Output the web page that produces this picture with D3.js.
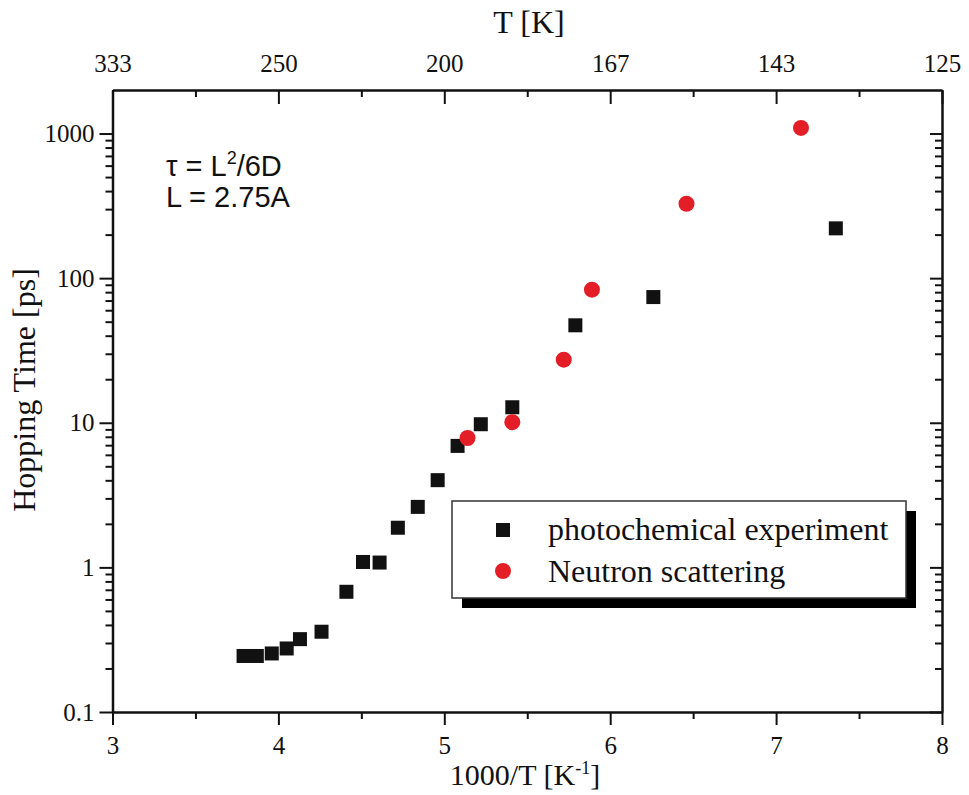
<!DOCTYPE html>
<html>
<head>
<meta charset="utf-8">
<script src="https://cdn.jsdelivr.net/npm/d3@7"></script>
<style>
  body { margin: 0; background: #fff; }
  svg { display: block; }
</style>
</head>
<body>
<div id="chart"></div>
<script>
const width = 969;
const height = 795;

// photochemical experiment (black squares)
const photoX = [3.79, 3.87, 3.96, 4.05, 4.13, 4.26, 4.41, 4.51, 4.61, 4.72, 4.84, 4.96, 5.08, 5.22, 5.41, 5.79, 6.26, 7.36];
const photoY = [0.244, 0.244, 0.254, 0.275, 0.319, 0.359, 0.678, 1.09, 1.08, 1.88, 2.62, 4.01, 6.92, 9.77, 12.8, 47.2, 74.0, 221];

// neutron scattering (red circles)
const neutronX = [5.14, 5.41, 5.72, 5.89, 6.46, 7.15];
const neutronY = [7.85, 10.1, 27.3, 83.2, 327, 1094];

const xTicks = [3, 4, 5, 6, 7, 8];
const xMinorTicks = [3.5, 4.5, 5.5, 6.5, 7.5];
const topTickLabels = ["333", "250", "200", "167", "143", "125"];
const yTicks = [0.1, 1, 10, 100, 1000];
const yTickLabels = ["0.1", "1", "10", "100", "1000"];
const legendLabels = ["photochemical experiment", "Neutron scattering"];

const serif = "'Liberation Serif', 'Times New Roman', serif";
const plotLeft = 112.5, plotRight = 942, plotTop = 90, plotBottom = 712;

const x = d3.scaleLinear().domain([3, 8]).range([plotLeft, plotRight]);
const y = d3.scaleLog().domain([0.1, 2000]).range([plotBottom, plotTop]);

// log minor ticks 2..9 in each decade below 1000
const yMinorTicks = [];
yTicks.forEach(function(d) {
  for (let k = 2; k <= 9; k++) {
    if (d * k < 1000) yMinorTicks.push(d * k);
  }
});

const svg = d3.select("#chart")
  .append("svg")
  .attr("width", width)
  .attr("height", height)
  .style("font-family", serif);

function styleAxis(g) {
  g.attr("font-family", serif);
  g.select(".domain").attr("stroke", "#111").attr("stroke-width", 2.5);
  g.selectAll(".tick line").attr("stroke", "#111").attr("stroke-width", 2);
  g.selectAll(".tick text").attr("fill", "#111")
    .style("font-family", serif)
    .style("font-size", "25px");
}

// bottom axis: outward ticks
svg.append("g")
  .attr("transform", "translate(0," + plotBottom + ")")
  .call(d3.axisBottom(x).tickValues(xTicks).tickSize(13).tickSizeOuter(0).tickPadding(11)
    .tickFormat(d3.format("d")))
  .call(styleAxis);
svg.append("g")
  .attr("transform", "translate(0," + plotBottom + ")")
  .call(d3.axisBottom(x).tickValues(xMinorTicks).tickSize(7).tickFormat(""))
  .call(styleAxis)
  .call(function(g) { g.select(".domain").remove(); });

// top axis: inward ticks, labels in K
svg.append("g")
  .attr("transform", "translate(0," + plotTop + ")")
  .call(d3.axisTop(x).tickValues(xTicks).tickSize(-14).tickSizeOuter(0).tickPadding(18)
    .tickFormat(function(d, i) { return topTickLabels[i]; }))
  .call(styleAxis);
svg.append("g")
  .attr("transform", "translate(0," + plotTop + ")")
  .call(d3.axisTop(x).tickValues(xMinorTicks).tickSize(-7).tickFormat(""))
  .call(styleAxis)
  .call(function(g) { g.select(".domain").remove(); });

// left axis: outward ticks
svg.append("g")
  .attr("transform", "translate(" + plotLeft + ",0)")
  .call(d3.axisLeft(y).tickValues(yTicks).tickSize(13).tickSizeOuter(0).tickPadding(5)
    .tickFormat(function(d, i) { return yTickLabels[i]; }))
  .call(styleAxis);
svg.append("g")
  .attr("transform", "translate(" + plotLeft + ",0)")
  .call(d3.axisLeft(y).tickValues(yMinorTicks).tickSize(7).tickFormat(""))
  .call(styleAxis)
  .call(function(g) { g.select(".domain").remove(); });

// right axis: inward ticks, no labels
svg.append("g")
  .attr("transform", "translate(" + plotRight + ",0)")
  .call(d3.axisRight(y).tickValues(yTicks).tickSize(-12).tickSizeOuter(0).tickFormat(""))
  .call(styleAxis);
svg.append("g")
  .attr("transform", "translate(" + plotRight + ",0)")
  .call(d3.axisRight(y).tickValues(yMinorTicks).tickSize(-7).tickFormat(""))
  .call(styleAxis)
  .call(function(g) { g.select(".domain").remove(); });

// axis titles
svg.append("text")
  .attr("x", 529)
  .attr("y", 33)
  .attr("text-anchor", "middle")
  .attr("fill", "#111")
  .style("font-size", "32px")
  .text("T [K]");

const xTitle = svg.append("text")
  .attr("x", 525)
  .attr("y", 785)
  .attr("text-anchor", "middle")
  .attr("fill", "#111")
  .style("font-size", "30px");
xTitle.append("tspan").text("1000/T [K");
xTitle.append("tspan").attr("dy", -11).style("font-size", "18px").text("-1");
xTitle.append("tspan").attr("dy", 11).text("]");

svg.append("text")
  .attr("transform", "translate(35,390) rotate(-90)")
  .attr("text-anchor", "middle")
  .attr("fill", "#111")
  .style("font-size", "32px")
  .text("Hopping Time [ps]");

// formula annotation
const note = svg.append("g")
  .style("font-family", "'Liberation Sans', Arial, sans-serif")
  .style("font-size", "29px")
  .attr("fill", "#111");
const line1 = note.append("text").attr("x", 166).attr("y", 176);
line1.append("tspan").text("\u03c4 = L");
line1.append("tspan").attr("dy", -12).style("font-size", "18px").text("2");
line1.append("tspan").attr("dy", 12).text("/6D");
note.append("text").attr("x", 166).attr("y", 207).text("L = 2.75A");

// data points
const sq = 14;
svg.append("g")
  .selectAll("rect")
  .data(photoX)
  .enter()
  .append("rect")
  .attr("x", function(d) { return x(d) - sq / 2; })
  .attr("y", function(d, i) { return y(photoY[i]) - sq / 2; })
  .attr("width", sq)
  .attr("height", sq)
  .attr("fill", "#111");

svg.append("g")
  .selectAll("circle")
  .data(neutronX)
  .enter()
  .append("circle")
  .attr("cx", function(d) { return x(d); })
  .attr("cy", function(d, i) { return y(neutronY[i]); })
  .attr("r", 8)
  .attr("fill", "#e31e26");

// legend with drop shadow
const legend = svg.append("g");
legend.append("rect")
  .attr("x", 462).attr("y", 511)
  .attr("width", 454).attr("height", 97)
  .attr("fill", "#000");
legend.append("rect")
  .attr("x", 452).attr("y", 501)
  .attr("width", 454).attr("height", 97)
  .attr("fill", "#fff")
  .attr("stroke", "#333")
  .attr("stroke-width", 1.5);
legend.append("rect")
  .attr("x", 503 - sq / 2).attr("y", 530 - sq / 2)
  .attr("width", sq).attr("height", sq)
  .attr("fill", "#111");
legend.append("circle")
  .attr("cx", 503).attr("cy", 571)
  .attr("r", 8)
  .attr("fill", "#e31e26");
legend.selectAll("text")
  .data(legendLabels)
  .enter()
  .append("text")
  .attr("x", 548)
  .attr("y", function(d, i) { return 540 + i * 42; })
  .attr("fill", "#111")
  .style("font-size", "32px")
  .text(function(d) { return d; });
</script>
</body>
</html>
